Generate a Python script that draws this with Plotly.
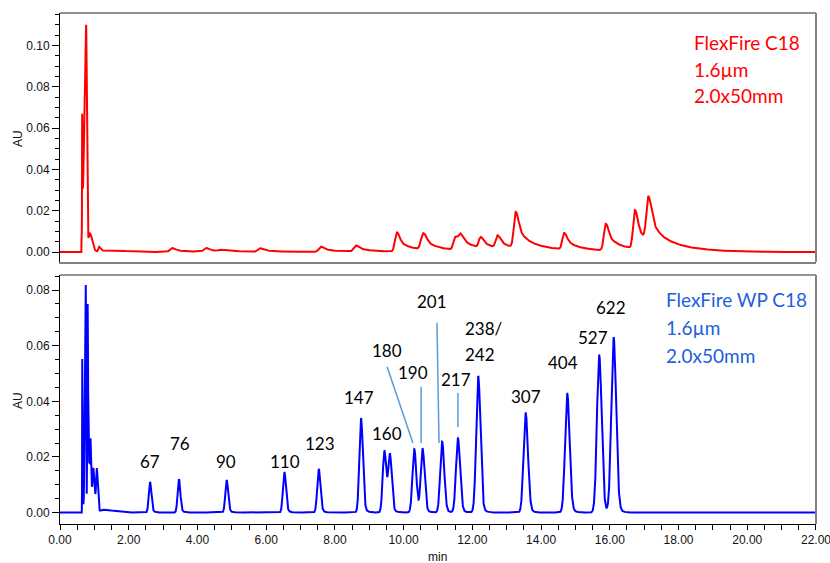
import numpy as np
import plotly.graph_objects as go

# ---------------- data ----------------
T_END = 22.0
ONSET = 0.625  # void (injection) front, min

# Top: FlexFire C18 (red) - void cluster
red_void_t = [0.645, 0.760, 0.870, 1.135, 1.400]
red_void_h = [0.067, 0.110, 0.009, 0.0026, 0.0009]
red_void_sl = [0.004, 0.055, 0.055, 0.020, 0.200]
red_void_sr = [0.010, 0.020, 0.070, 0.040, 0.500]

# Top: FlexFire C18 (red) - tailing peaks
red_t = [3.25, 4.24, 4.68, 5.82, 7.59, 8.61, 9.80, 10.57, 11.50, 11.66,
         12.24, 12.73, 13.26, 14.67, 15.88, 16.73, 17.12]
red_h = [0.0020, 0.0020, 0.0012, 0.0019, 0.0027, 0.0032, 0.0095, 0.0092,
         0.0074, 0.0090, 0.0074, 0.0082, 0.0195, 0.0093, 0.0137, 0.0203, 0.0271]
red_w = [0.06, 0.06, 0.055, 0.06, 0.06, 0.06, 0.052, 0.062, 0.05, 0.055,
         0.05, 0.05, 0.052, 0.052, 0.052, 0.052, 0.056]

# Bottom: FlexFire WP C18 (blue) - void cluster
blue_void_t = [0.648, 0.750, 0.805, 0.850, 0.890, 0.970, 1.070, 1.250]
blue_void_h = [0.0556, 0.0818, 0.0750, 0.0180, 0.0267, 0.0160, 0.0160, 0.0010]
blue_void_sl = [0.004, 0.025, 0.010, 0.040, 0.010, 0.020, 0.020, 0.080]
blue_void_sr = [0.012, 0.010, 0.012, 0.060, 0.012, 0.040, 0.030, 0.300]

# Bottom: FlexFire WP C18 (blue) - peaks (labelled with MW, kDa)
blue_t = [2.62, 3.46, 4.85, 6.53, 7.53, 8.76, 9.44, 9.60, 10.31, 10.55,
          11.12, 11.58, 12.17, 13.55, 14.76, 15.69, 16.11]
blue_h = [0.0110, 0.0120, 0.0117, 0.0145, 0.0157, 0.0339, 0.0223, 0.0213,
          0.0228, 0.0231, 0.0255, 0.0267, 0.0491, 0.0359, 0.0429, 0.0567, 0.0630]
blue_w = [0.036, 0.037, 0.039, 0.042, 0.044, 0.048, 0.048, 0.048, 0.052,
          0.052, 0.054, 0.056, 0.058, 0.060, 0.062, 0.064, 0.066]

# peak labels (bottom panel)
peak_labels = ["67", "76", "90", "110", "123", "147", "160", "180", "190",
               "201", "217", "238/", "242", "307", "404", "527", "622"]

top_text = ["FlexFire C18", "1.6µm", "2.0x50mm"]
bottom_text = ["FlexFire WP C18", "1.6µm", "2.0x50mm"]

# ---------------- trace construction ----------------
t = np.linspace(0.0, T_END, 8801)


def shape(tt, t0, sl, sr, f1, tau1, f2, tau2):
    """Unit-apex peak: Gaussian front, Gaussian core blending smoothly into
    an exponential tail (f1, tau1 fast / f2, tau2 slow)."""
    tt = np.asarray(tt, dtype=float)
    dt = tt - t0
    s = np.where(dt < 0, sl, sr)
    g = np.exp(-0.5 * (dt / s) ** 2)
    dtp = np.clip(dt, 0, None)
    tail = f1 * np.exp(-dtp / tau1) + f2 * np.exp(-dtp / tau2)
    return np.where(dt < 0, g, g + (1 - g) * tail)


def build(comps, obs_t, obs_h):
    M = np.array([[shape(ti, *c) for c in comps] for ti in obs_t])
    amps, *_ = np.linalg.lstsq(M, np.array(obs_h), rcond=None)
    amps = np.clip(amps, 0, None)
    y = np.zeros_like(t)
    for a, c in zip(amps, comps):
        y += a * shape(t, *c)
    return np.where(t >= ONSET, y, 0.0)


red_comps = [(t0, sl, sr, 0.0, 1.0, 0.0, 1.0)
             for t0, sl, sr in zip(red_void_t, red_void_sl, red_void_sr)]
red_comps += [(t0, w, w * 1.3, 0.45, 0.2, 0.30, 0.8) for t0, w in zip(red_t, red_w)]
red_y = build(red_comps, red_void_t + red_t, red_void_h + red_h)

blue_comps = [(t0, sl, sr, 0.0, 1.0, 0.0, 1.0)
              for t0, sl, sr in zip(blue_void_t, blue_void_sl, blue_void_sr)]
blue_comps += [(t0, w, w * 1.1, 0.10, 0.10, 0.0, 1.0) for t0, w in zip(blue_t, blue_w)]
blue_y = build(blue_comps, blue_void_t + blue_t, blue_void_h + blue_h)

# ---------------- figure ----------------
fig = go.Figure()
fig.add_trace(go.Scatter(x=t, y=blue_y, mode="lines", xaxis="x", yaxis="y",
                         line=dict(color="#0000ff", width=2), hoverinfo="skip"))
fig.add_trace(go.Scatter(x=t, y=red_y, mode="lines", xaxis="x2", yaxis="y2",
                         line=dict(color="#ff0000", width=2), hoverinfo="skip"))

tick_font = dict(family="Liberation Sans, Arial, sans-serif", size=12, color="#111")
label_font = dict(family="Lato, sans-serif", size=17, color="#000")

yaxis_common = dict(
    dtick=0.02, tick0=0, tickformat=".2f", ticks="outside", ticklen=7,
    tickcolor="#000", tickwidth=1, showline=True, linecolor="#000", linewidth=1,
    showgrid=False, zeroline=False, tickfont=tick_font, automargin=False,
    minor=dict(dtick=0.005, tick0=0, ticks="outside", ticklen=4, tickcolor="#000"),
)

X_RANGE = [0, T_END + 0.0005]

fig.update_layout(
    width=830, height=563,
    margin=dict(l=60, r=14, t=13, b=39, autoexpand=False),
    paper_bgcolor="white", plot_bgcolor="white",
    showlegend=False,
    xaxis=dict(domain=[0, 1], range=X_RANGE, anchor="y", dtick=2, tick0=0,
               tickformat=".2f", ticks="outside", ticklen=5, tickcolor="#000",
               showline=True, linecolor="#000", linewidth=1, showgrid=False,
               zeroline=False, tickfont=tick_font, ticklabeloverflow="allow",
               automargin=False,
               minor=dict(dtick=0.5, tick0=0, ticks="outside", ticklen=5,
                          tickcolor="#000")),
    yaxis=dict(domain=[0, 0.4873], range=[-0.0041, 0.0854], anchor="x", **yaxis_common),
    xaxis2=dict(domain=[0, 1], range=X_RANGE, anchor="y2", showticklabels=False,
                ticks="", showline=True, linecolor="#808080", linewidth=1.5,
                showgrid=False, zeroline=False, automargin=False),
    yaxis2=dict(domain=[0.5127, 1], range=[-0.0048, 0.1157], anchor="x2", **yaxis_common),
)

# frame borders
shapes = [
    dict(type="line", xref="x2 domain", yref="y2 domain", x0=0, x1=1, y0=1, y1=1,
         line=dict(color="#222", width=1)),
    dict(type="line", xref="x2 domain", yref="y2 domain", x0=1, x1=1, y0=0, y1=1,
         line=dict(color="#808080", width=2)),
    dict(type="line", xref="x domain", yref="y domain", x0=0, x1=1, y0=1, y1=1,
         line=dict(color="#707070", width=1.5)),
    dict(type="line", xref="x domain", yref="y domain", x0=1, x1=1, y0=0, y1=1,
         line=dict(color="#808080", width=2)),
]
# leader lines (data coords, bottom panel)
leaders = [((9.52, 0.0524), (10.27, 0.0250)),
           ((10.51, 0.0452), (10.51, 0.0250)),
           ((10.97, 0.0682), (11.03, 0.0250)),
           ((11.58, 0.0430), (11.58, 0.0308))]
for (xa, ya), (xb, yb) in leaders:
    shapes.append(dict(type="line", xref="x", yref="y", x0=xa, y0=ya, x1=xb, y1=yb,
                       line=dict(color="#5b9bd5", width=1.5)))
fig.update_layout(shapes=shapes)

# peak label placement (data coords, bottom panel)
label_pos = [(2.62, 0.0182), (3.49, 0.0250), (4.83, 0.0182), (6.55, 0.0182),
             (7.57, 0.0250), (8.70, 0.0412), (9.52, 0.0286), (9.52, 0.0581),
             (10.27, 0.0502), (10.83, 0.0757), (11.53, 0.0480), (11.73, 0.0660),
             (11.73, 0.0570), (13.56, 0.0416), (14.64, 0.0538), (15.51, 0.0628),
             (16.04, 0.0736)]
ann = []
for txt, (xx, yy) in zip(peak_labels, label_pos):
    left = txt in ("238/", "242")
    ann.append(dict(x=xx, y=yy, xref="x", yref="y", text=txt, showarrow=False,
                    xanchor="left" if left else "center", yanchor="middle",
                    font=label_font))

side_font_r = dict(family="Lato, sans-serif", size=19, color="#ff0000")
side_font_b = dict(family="Lato, sans-serif", size=19, color="#2060dc")
for txt, yy in zip(top_text, [0.9413, 0.8885, 0.8376]):
    ann.append(dict(x=0.836, y=yy, xref="paper", yref="paper", text=txt,
                    showarrow=False, xanchor="left", yanchor="middle", font=side_font_r))
for txt, yy in zip(bottom_text, [0.4384, 0.3836, 0.3307]):
    ann.append(dict(x=0.799, y=yy, xref="paper", yref="paper", text=txt,
                    showarrow=False, xanchor="left", yanchor="middle", font=side_font_b))

axis_title_font = dict(family="Liberation Sans, Arial, sans-serif", size=12, color="#111")
ann.append(dict(x=-0.0556, y=0.7554, xref="paper", yref="paper", text="AU",
                textangle=-90, showarrow=False, xanchor="center", yanchor="middle",
                font=axis_title_font))
ann.append(dict(x=-0.0556, y=0.2427, xref="paper", yref="paper", text="AU",
                textangle=-90, showarrow=False, xanchor="center", yanchor="middle",
                font=axis_title_font))
ann.append(dict(x=0.4993, y=-0.0646, xref="paper", yref="paper", text="min",
                showarrow=False, xanchor="center", yanchor="middle",
                font=axis_title_font))
fig.update_layout(annotations=ann)

fig.write_html("out.html")
